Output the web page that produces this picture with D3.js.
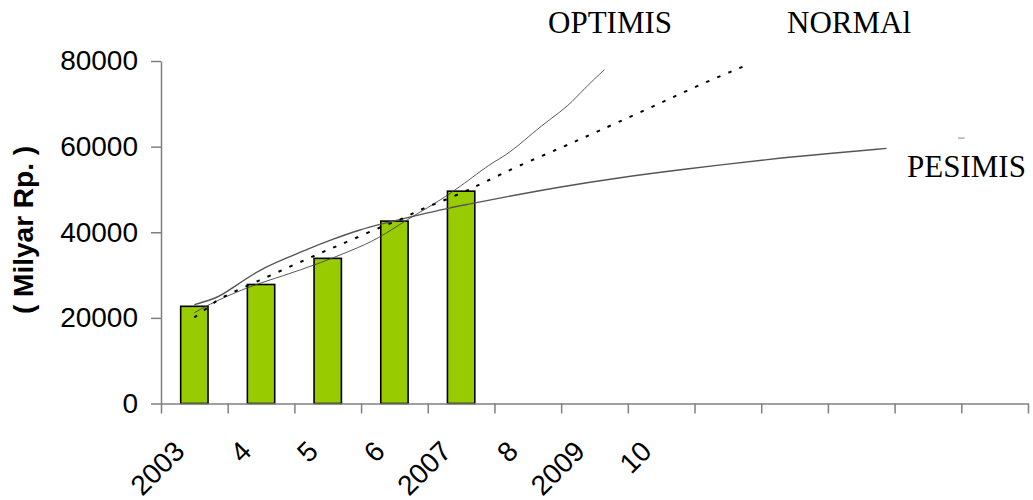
<!DOCTYPE html>
<html><head><meta charset="utf-8">
<script src="https://cdn.jsdelivr.net/npm/d3@7"></script>
<style>body{margin:0;background:#fff}svg{display:block}</style>
</head><body>
<svg id="c" width="1033" height="500"></svg>
<script>
// ---- data ----
const years = [2003,2004,2005,2006,2007,2008,2009,2010,2011,2012,2013,2014,2015];
const tickLabels = ["2003","4","5","6","2007","8","2009","10","","","","",""];
const barYears = [2003,2004,2005,2006,2007];
const barValues = [22700,27800,33900,42600,49600];
const yTicks = [0,20000,40000,60000,80000];
// trend curves: [years after 2003, value]
const optimis = [[0,21200],[0.3,23800],[0.85,27500],[1.33,29800],[1.85,32600],[2.35,35700],[2.75,38400],[3.2,43100],[3.6,46600],[3.95,50300],[4.15,52600],[4.45,56100],[4.6,57300],[4.85,60100],[5.05,62900],[5.35,66600],[5.6,69400],[5.85,73600],[6.15,78000]];
const normal = [[0,20100],[0.2,22400],[0.38,24700],[1.03,29100],[1.36,31500],[1.7,33800],[2.0,35900],[2.33,38000],[2.83,41500],[3.13,43100],[3.34,45000],[3.64,46800],[4.0,49100],[4.33,51500],[4.84,55400],[5.48,59600],[5.81,61900],[6.31,65400],[6.94,69800],[7.58,74500],[8.26,78900]];
const pesimis = [[0,23100],[0.36,24700],[0.57,27000],[1.0,31500],[1.39,34000],[1.7,36100],[2.08,38400],[2.48,40600],[2.83,42000],[3.19,43400],[3.49,44500],[3.83,45700],[4.13,46600],[4.58,48000],[5.48,50600],[6.34,52700],[7.33,54700],[8.63,57100],[9.53,58400],[10.38,59600]];
const seriesLabels = ["OPTIMIS","NORMAl","PESIMIS"];
const yTitle = "( Milyar Rp. )";

// ---- scales ----
const svg = d3.select("#c");
const x = d3.scaleBand().domain(years).range([161,1028]).padding(0);
const xl = d3.scaleLinear().domain([2002.5,2015.5]).range([161,1028]);
const y = d3.scaleLinear().domain([0,80000]).range([403.5,61]);
const sans = "'Liberation Sans', Arial, sans-serif";
const serif = "'Liberation Serif', 'Times New Roman', serif";

svg.append("rect").attr("width",1033).attr("height",500).attr("fill","#fff");

// bars
const bw = x.bandwidth()*0.41;
svg.append("g").selectAll("rect").data(barYears).join("rect")
  .attr("x",(d)=>x(d)+x.bandwidth()/2-bw/2)
  .attr("y",(d,i)=>y(barValues[i]))
  .attr("width",bw)
  .attr("height",(d,i)=>y(0)-y(barValues[i]))
  .attr("fill","#99cc00").attr("stroke","#000").attr("stroke-width",1.6);

// lines
const line = d3.line().x(d=>xl(2003+d[0])).y(d=>y(d[1])).curve(d3.curveBasis);
svg.append("path").datum(pesimis).attr("d",line).attr("fill","none").attr("stroke","#555").attr("stroke-width",1.4);
svg.append("path").datum(optimis).attr("d",line).attr("fill","none").attr("stroke","#444").attr("stroke-width",0.9);
svg.append("path").datum(normal).attr("d",line).attr("fill","none").attr("stroke","#000").attr("stroke-width",2).attr("stroke-dasharray","3.5,8.5");

// small stray mark near PESIMIS
svg.append("line").attr("x1",xl(2014.45)).attr("x2",xl(2014.55)).attr("y1",y(62000)).attr("y2",y(62000)).attr("stroke","#888").attr("stroke-width",1);

// y axis
const ya = svg.append("g").attr("transform","translate(161,0)")
  .call(d3.axisLeft(y).tickValues(yTicks).tickSize(10).tickSizeOuter(0).tickPadding(13).tickFormat(d3.format("d")));
ya.selectAll("path,line").attr("stroke","#808080").attr("stroke-width",1.5);
ya.selectAll("text").attr("font-family",sans).attr("font-size",28).attr("fill","#000");

// x axis
const xa = svg.append("g").attr("transform","translate(0,"+y(0)+")")
  .call(d3.axisBottom(xl).tickValues(d3.range(2002.5,2016,1)).tickSize(10).tickSizeOuter(0).tickFormat(""));
xa.selectAll("path,line").attr("stroke","#808080").attr("stroke-width",1.5);

svg.append("g").selectAll("text").data(years).join("text")
  .attr("transform",(d)=>"translate("+(x(d)+x.bandwidth()/2-8)+",453) rotate(-45)")
  .attr("text-anchor","end")
  .attr("font-family",sans).attr("font-size",28).attr("fill","#000")
  .text((d,i)=>tickLabels[i]);

// y title
svg.append("text").attr("transform","translate(33,230) rotate(-90)")
  .attr("text-anchor","middle").attr("font-family",sans).attr("font-weight","bold")
  .attr("font-size",28).attr("fill","#000").text(yTitle);

// series labels
svg.append("g").selectAll("text").data(seriesLabels).join("text")
  .attr("x",(d,i)=>[548,787,907][i])
  .attr("y",(d,i)=>[33,33,177][i])
  .attr("font-family",serif).attr("font-size",31).attr("fill","#000")
  .text(d=>d);
</script>
</body></html>
